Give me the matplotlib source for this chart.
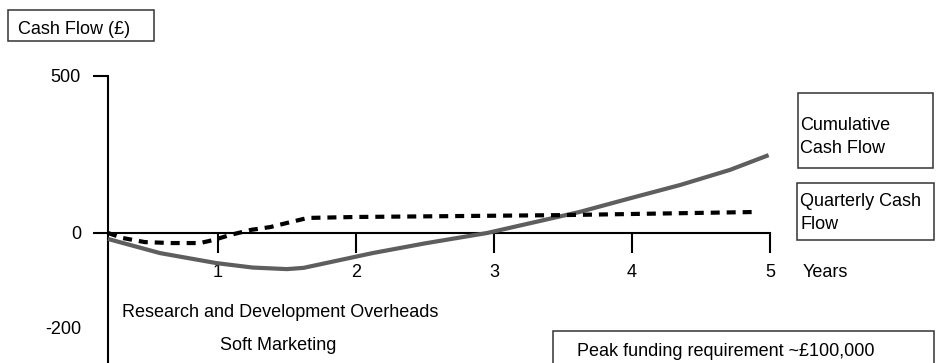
import matplotlib.pyplot as plt

plt.rcParams['font.family'] = ['Liberation Sans', 'DejaVu Sans']
plt.rcParams['font.size'] = 13
plt.rcParams['lines.scale_dashes'] = False

# cumulative cash flow (grey) and quarterly cash flow (dashed), in £k by year
cum_years = [0.203, 0.58, 0.99, 1.25, 1.5, 1.62, 2.12, 2.5, 2.95, 3.62, 3.99, 4.35, 4.71, 4.99]
cum_values = [-19, -64, -96, -110, -115, -111, -64, -33, 0, 67, 111, 153, 201, 248]

q_years = [0.203, 0.31, 0.47, 0.66, 0.87, 0.97, 1.09, 1.24, 1.38, 1.50, 1.65, 2.0, 2.5, 3.5, 4.91]
q_values = [0, -16, -29, -32, -32, -22, -6, 10, 19, 32, 48, 51, 53, 57, 67]

x_ticks = [1, 2, 3, 4, 5]
y_ticks = [0, 500]
y_tick_labels = ['0', '500']

W, H = 936, 363
fig = plt.figure(figsize=(W / 100, H / 100), dpi=100)
ax = fig.add_axes([0, 0, 1, 1])
ax.set_xlim(-0.5797, 6.2029)
ax.set_ylim(-414, 742)

ax.plot(cum_years, cum_values, color='#5e5e5e', lw=3, solid_capstyle='butt', zorder=3)
ax.plot(q_years, q_values, color='black', lw=3, dashes=(6.5, 5), dash_capstyle='butt', zorder=4)

# axes drawn as a cross through the origin
for s in ['top', 'right']:
    ax.spines[s].set_visible(False)
ax.spines['left'].set_position(('data', 0.203))
ax.spines['left'].set_bounds(-414, 500)
ax.spines['bottom'].set_position(('data', 0))
ax.spines['bottom'].set_bounds(0.203, 5)
for s in ['left', 'bottom']:
    ax.spines[s].set_linewidth(1.5)
    ax.spines[s].set_color('black')

ax.set_xticks(x_ticks)
ax.set_yticks(y_ticks)
ax.set_yticklabels(y_tick_labels)
ax.tick_params(axis='x', direction='out', length=14.4, width=1.5, pad=8, labelsize=13)
ax.tick_params(axis='y', direction='out', length=11, width=1.5, pad=8.5, labelsize=13)


def fx(px):
    return px / W


def fy(py):
    return 1 - py / H


def box(x0, y0, x1, y1):
    fig.add_artist(plt.Rectangle((fx(x0), fy(y1)), fx(x1) - fx(x0), fy(y0) - fy(y1),
                                 transform=fig.transFigure, fill=False,
                                 edgecolor='#333333', lw=1.1))


def label(px, py, s):
    fig.text(fx(px), fy(py), s, ha='left', va='baseline', fontsize=13)


box(8, 10, 154, 41)
label(18, 34, 'Cash Flow (£)')

box(798, 93, 933, 168)
label(800, 130, 'Cumulative')
label(800, 153, 'Cash Flow')

box(797, 183, 934, 240)
label(800, 206, 'Quarterly Cash')
label(800, 229, 'Flow')

box(553, 331, 934, 370)
label(577, 356, 'Peak funding requirement ~£100,000')

label(803, 277, 'Years')
label(122, 317, 'Research and Development Overheads')
label(220, 350, 'Soft Marketing')
fig.text(fx(81), fy(330), '-200', ha='right', va='center', fontsize=13)

fig.savefig('out.png', dpi=100)
